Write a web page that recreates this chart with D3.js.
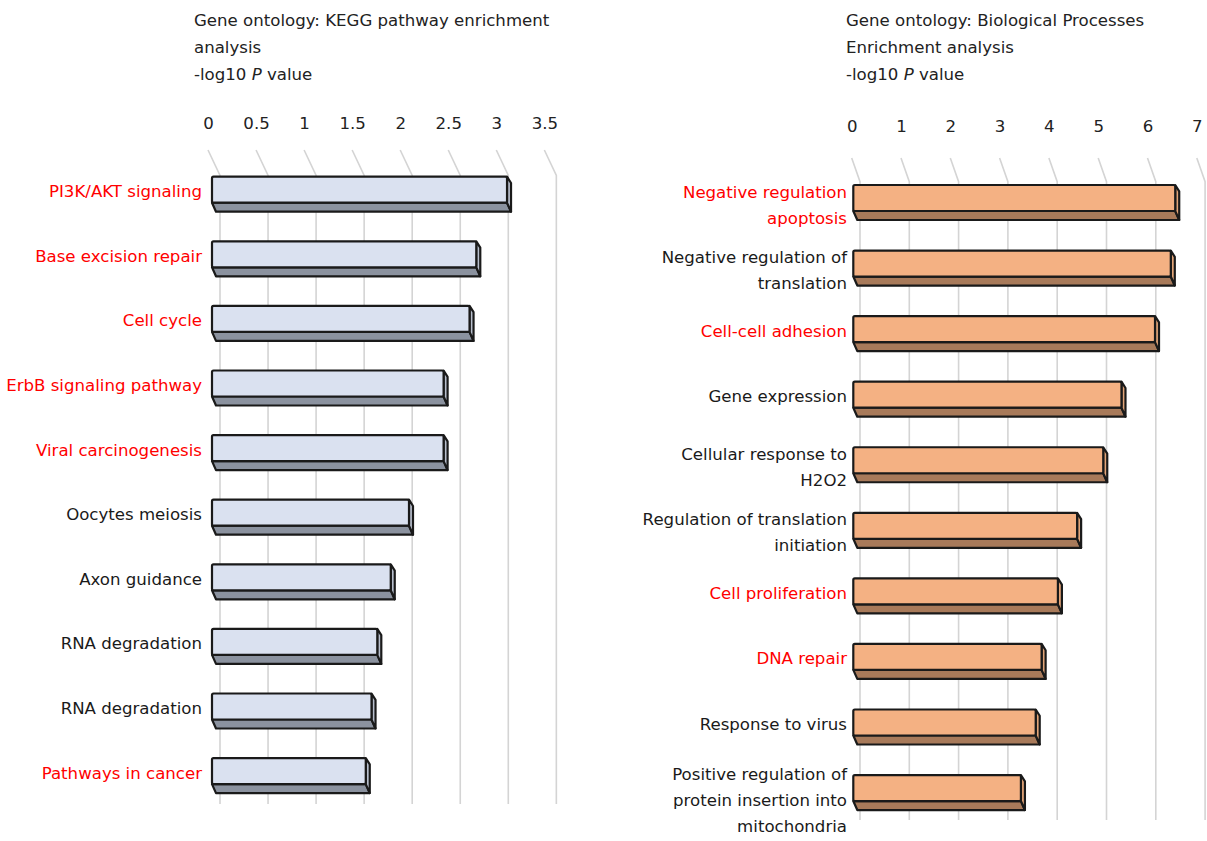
<!DOCTYPE html>
<html>
<head>
<meta charset="utf-8">
<script src="https://cdn.jsdelivr.net/npm/d3@7"></script>
<style>
  body { margin: 0; background: #fff; }
  text { font-family: "DejaVu Sans", Verdana, sans-serif; }
</style>
</head>
<body>
<div id="chart"></div>
<script>
// left panel: KEGG pathways
var keggTerms = [
  ["PI3K/AKT signaling"], ["Base excision repair"], ["Cell cycle"],
  ["ErbB signaling pathway"], ["Viral carcinogenesis"], ["Oocytes meiosis"],
  ["Axon guidance"], ["RNA degradation"], ["RNA degradation"], ["Pathways in cancer"]
];
var keggValues = [3.07, 2.75, 2.68, 2.41, 2.41, 2.05, 1.86, 1.72, 1.66, 1.60];
var keggHighlighted = [0, 1, 2, 3, 4, 9];
var keggTicks = [0, 0.5, 1, 1.5, 2, 2.5, 3, 3.5];

// right panel: biological processes
var bpTerms = [
  ["Negative regulation", "apoptosis"], ["Negative regulation of", "translation"],
  ["Cell-cell adhesion"], ["Gene expression"], ["Cellular response to", "H2O2"],
  ["Regulation of translation", "initiation"], ["Cell proliferation"], ["DNA repair"],
  ["Response to virus"], ["Positive regulation of", "protein insertion into", "mitochondria"]
];
var bpValues = [6.53, 6.44, 6.12, 5.44, 5.07, 4.54, 4.15, 3.82, 3.70, 3.40];
var bpHighlighted = [0, 2, 6, 7];
var bpTicks = [0, 1, 2, 3, 4, 5, 6, 7];

var width = 1207, height = 841;
var fs = "16.6px";
var svg = d3.select("#chart").append("svg")
  .attr("width", width).attr("height", height);

function drawPanel(p) {
  var g = svg.append("g");
  var x = d3.scaleLinear().domain([0, p.max]).range([p.x0, p.x0 + p.max * p.unit]);
  var y = d3.scaleBand().domain(d3.range(p.values.length))
    .range([p.top, p.top + p.values.length * p.step]);

  // title, 3 lines
  var t = g.append("text").attr("x", p.titleX).attr("y", 26).style("font-size", fs).attr("fill", "#222");
  p.title.forEach(function (line, i) {
    t.append("tspan").attr("x", p.titleX).attr("dy", i ? 27 : 0).text(line);
  });
  t.append("tspan").attr("x", p.titleX).attr("dy", 27).text("-log10 ");
  t.append("tspan").style("font-style", "italic").text("P");
  t.append("tspan").text(" value");

  // grid: slanted back part, then straight down
  g.selectAll(".grid").data(p.ticks).enter().append("path")
    .attr("fill", "none").attr("stroke", "#d4d4d4").attr("stroke-width", 1.6)
    .attr("d", function (d) {
      var xb = x(d) + p.gBack, xf = x(d) + p.gFront;
      return "M" + xb + "," + p.gTop + "L" + xf + "," + p.gMid + "L" + xf + "," + p.gBottom;
    });

  // tick labels along the top
  var axis = d3.axisTop(x).tickValues(p.ticks).tickSize(0).tickFormat(d3.format(""));
  var ax = g.append("g").attr("transform", "translate(" + p.gBack + "," + p.tickY + ")").call(axis);
  ax.select(".domain").remove();
  ax.selectAll("text").style("font-size", fs).attr("fill", "#222")
    .style("font-family", "'DejaVu Sans', Verdana, sans-serif");

  var dx = 4, dy = 9, h = p.barH, sw = 2.2;
  var bars = g.selectAll(".bar").data(p.values).enter().append("g");

  // bottom face
  bars.append("path").attr("fill", p.bottom).attr("stroke", "#1a1a1a").attr("stroke-width", sw)
    .attr("stroke-linejoin", "round")
    .attr("d", function (d, i) {
      var x0 = x(0), x1 = x(d), yb = y(i) + h;
      return "M" + x0 + "," + yb + "L" + (x0 + dx) + "," + (yb + dy) + "L" + (x1 + dx) + "," + (yb + dy) + "L" + x1 + "," + yb + "Z";
    });
  // side face
  bars.append("path").attr("fill", p.side).attr("stroke", "#1a1a1a").attr("stroke-width", sw)
    .attr("stroke-linejoin", "round")
    .attr("d", function (d, i) {
      var x1 = x(d), y0 = y(i);
      return "M" + x1 + "," + y0 + "L" + (x1 + dx) + "," + (y0 + dy * 0.7) + "L" + (x1 + dx) + "," + (y0 + h + dy) + "L" + x1 + "," + (y0 + h) + "Z";
    });
  // front face
  bars.append("rect").attr("fill", p.front).attr("stroke", "#1a1a1a").attr("stroke-width", sw)
    .attr("rx", 1.5)
    .attr("x", x(0)).attr("y", function (d, i) { return y(i); })
    .attr("width", function (d) { return x(d) - x(0); })
    .attr("height", h);

  // category labels
  var lh = 26;
  g.selectAll(".lab").data(p.terms).enter().append("text")
    .attr("text-anchor", "end").style("font-size", fs)
    .attr("fill", function (d, i) { return p.highlighted.indexOf(i) >= 0 ? "#ff0000" : "#1a1a1a"; })
    .each(function (d, i) {
      var cy = y(i) + (h + dy) / 2 - 3 + (d.length - 1) * 5;
      var first = cy - (d.length - 1) * lh / 2 + 6;
      var el = d3.select(this);
      d.forEach(function (line, k) {
        el.append("tspan").attr("x", p.labelX).attr("y", first + k * lh).text(line);
      });
    });
}

drawPanel({
  terms: keggTerms, values: keggValues, highlighted: keggHighlighted, ticks: keggTicks,
  title: ["Gene ontology: KEGG pathway enrichment", "analysis"], titleX: 194,
  max: 3.5, x0: 212, unit: 96.1, top: 176.7, step: 64.6, barH: 26,
  gBack: -4, gFront: 8, gTop: 150, gMid: 175.5, gBottom: 804, tickY: 132,
  labelX: 202,
  front: "#dae1f0", bottom: "#8b929f", side: "#b8bfcd"
});

drawPanel({
  terms: bpTerms, values: bpValues, highlighted: bpHighlighted, ticks: bpTicks,
  title: ["Gene ontology: Biological Processes", "Enrichment analysis"], titleX: 846,
  max: 7, x0: 853.3, unit: 49.3, top: 185, step: 65.56, barH: 26,
  gBack: -1.6, gFront: 6.7, gTop: 158, gMid: 181.7, gBottom: 820, tickY: 135,
  labelX: 847,
  front: "#f4b183", bottom: "#a87a5a", side: "#e3a578"
});
</script>
</body>
</html>
